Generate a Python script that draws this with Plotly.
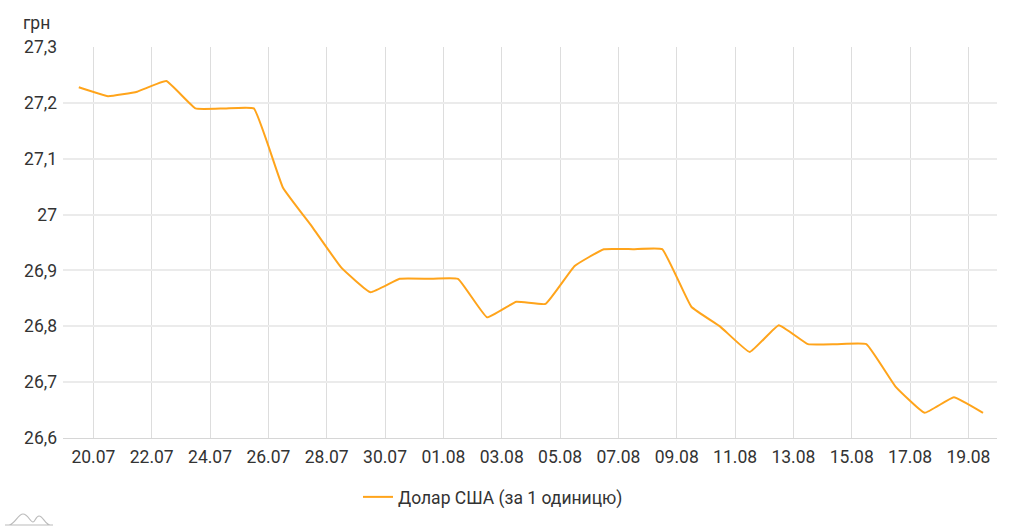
import plotly.graph_objects as go
import pandas as pd

dates = [
    "2021-07-19", "2021-07-20", "2021-07-21", "2021-07-22", "2021-07-23", "2021-07-24",
    "2021-07-25", "2021-07-26", "2021-07-27", "2021-07-28", "2021-07-29", "2021-07-30",
    "2021-07-31", "2021-08-01", "2021-08-02", "2021-08-03", "2021-08-04", "2021-08-05",
    "2021-08-06", "2021-08-07", "2021-08-08", "2021-08-09", "2021-08-10", "2021-08-11",
    "2021-08-12", "2021-08-13", "2021-08-14", "2021-08-15", "2021-08-16", "2021-08-17",
    "2021-08-18", "2021-08-19",
]
usd = [
    27.228, 27.212, 27.220, 27.239, 27.190, 27.190,
    27.190, 27.048, 26.978, 26.905, 26.861, 26.885,
    26.885, 26.885, 26.816, 26.844, 26.840, 26.908,
    26.938, 26.938, 26.938, 26.835, 26.799, 26.754,
    26.802, 26.768, 26.768, 26.768, 26.692, 26.645,
    26.673, 26.645,
]
series_name = "Долар США (за 1 одиницю)"
y_unit = "грн"

x = pd.to_datetime(dates) + pd.Timedelta(hours=12)

W, H = 1024, 530
L, R, T, B = 63, 27, 47, 92
pw, ph = W - L - R, H - T - B

def px(xp):
    return (xp - L) / pw

def py(yp):
    return (H - B - yp) / ph

fig = go.Figure()
fig.add_trace(go.Scatter(
    x=x, y=usd, mode="lines", name=series_name,
    line=dict(color="#ffa41b", width=2, shape="spline", smoothing=0.3),
    showlegend=True,
))

font_color = "#333333"
FS = 17.5
fig.update_layout(
    width=W, height=H,
    margin=dict(l=L, r=R, t=T, b=B),
    paper_bgcolor="white", plot_bgcolor="white",
    separators=", ",
    font=dict(family="Roboto", size=FS, color=font_color),
    showlegend=True,
    legend=dict(orientation="h", x=px(358), xanchor="left", y=py(497), yanchor="middle",
                font=dict(size=FS, color=font_color), bgcolor="rgba(0,0,0,0)"),
    xaxis=dict(
        type="date",
        range=["2021-07-18 23:00", "2021-08-19 23:30"],
        tick0="2021-07-20", dtick=2 * 86400000, tickformat="%d.%m",
        showgrid=True, gridcolor="#dddddd", gridwidth=1,
        showline=True, linecolor="#d6d6d6", linewidth=1,
        ticks="", zeroline=False,
        tickfont=dict(size=FS, color=font_color),
        ticklabelstandoff=3,
        fixedrange=True,
    ),
    yaxis=dict(
        range=[26.6, 27.3], tick0=26.6, dtick=0.1,
        showgrid=True, gridcolor="#ebebeb", gridwidth=2,
        zeroline=False, ticks="", showline=False,
        tickfont=dict(size=FS, color=font_color),
        ticklabelstandoff=5,
        fixedrange=True,
    ),
    annotations=[dict(
        text=y_unit, xref="paper", yref="paper", x=px(21), y=py(23),
        xanchor="left", yanchor="middle", showarrow=False,
        font=dict(size=FS, color=font_color),
    )],
    shapes=[
        dict(type="path", xref="paper", yref="paper",
             path=(f"M {px(5)} {py(525)} L {px(53)} {py(525)} "
                   f"M {px(9)} {py(525)} C {px(15)} {py(524)} {px(18)} {py(514)} {px(23)} {py(514)} "
                   f"C {px(28)} {py(514)} {px(30)} {py(522)} {px(33)} {py(522)} "
                   f"C {px(35)} {py(522)} {px(36)} {py(516)} {px(39)} {py(516)} "
                   f"C {px(43)} {py(516)} {px(45)} {py(524)} {px(50)} {py(525)}"),
             line=dict(color="#bbbbbb", width=1.2)),
    ],
)

fig.write_html("out.html", config={"displayModeBar": False},
               post_script="document.body.style.margin='0';")
